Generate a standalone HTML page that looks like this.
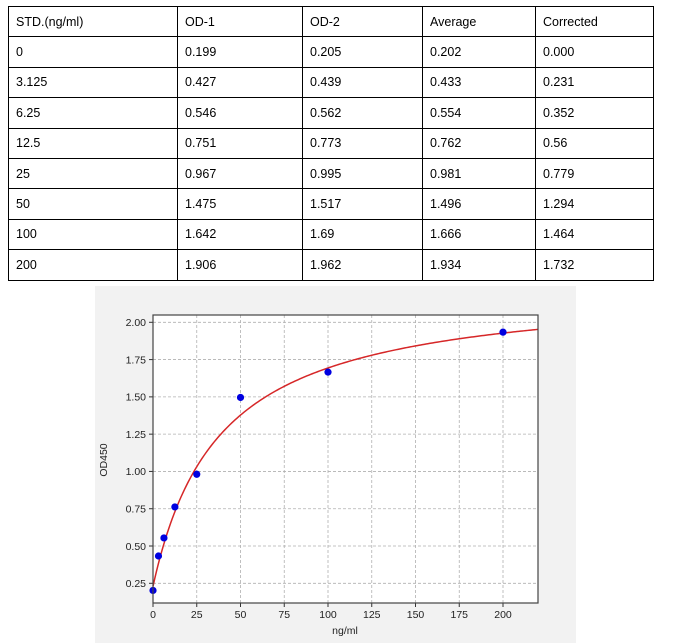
<!DOCTYPE html>
<html><head><meta charset="utf-8"><style>
html,body{margin:0;padding:0;background:#fff;width:673px;height:643px;overflow:hidden;font-family:"Liberation Sans",sans-serif}
table{position:absolute;left:8px;top:6px;border-collapse:collapse;font-size:12.5px;color:#000}
td{border:1.5px solid #000;height:30.4px;padding:0 0 0 7px;box-sizing:border-box}
svg{position:absolute;left:0;top:0}
</style></head><body>
<table>
<colgroup><col style="width:169px"><col style="width:125px"><col style="width:120px"><col style="width:113px"><col style="width:118px"></colgroup>
<tr><td>STD.(ng/ml)</td><td>OD-1</td><td>OD-2</td><td>Average</td><td>Corrected</td></tr>
<tr><td>0</td><td>0.199</td><td>0.205</td><td>0.202</td><td>0.000</td></tr>
<tr><td>3.125</td><td>0.427</td><td>0.439</td><td>0.433</td><td>0.231</td></tr>
<tr><td>6.25</td><td>0.546</td><td>0.562</td><td>0.554</td><td>0.352</td></tr>
<tr><td>12.5</td><td>0.751</td><td>0.773</td><td>0.762</td><td>0.56</td></tr>
<tr><td>25</td><td>0.967</td><td>0.995</td><td>0.981</td><td>0.779</td></tr>
<tr><td>50</td><td>1.475</td><td>1.517</td><td>1.496</td><td>1.294</td></tr>
<tr><td>100</td><td>1.642</td><td>1.69</td><td>1.666</td><td>1.464</td></tr>
<tr><td>200</td><td>1.906</td><td>1.962</td><td>1.934</td><td>1.732</td></tr>
</table>
<svg id="s" width="673" height="643" xmlns="http://www.w3.org/2000/svg" font-family="Liberation Sans, sans-serif" font-size="10.5" fill="#222">
<rect x="95" y="286" width="481" height="357" fill="#f2f2f2"/>
<rect x="153" y="315" width="385" height="288" fill="#fff"/>
<g id="grid" stroke="#b0b0b0" stroke-dasharray="3,2" stroke-width="0.8"></g>
<g id="ticks" stroke="#333"></g>
<g id="labels"></g>
<path id="curve" fill="none" stroke="#d62728" stroke-width="1.5"/>
<g id="pts" fill="#0000e0"></g>
<rect x="153" y="315" width="385" height="288" fill="none" stroke="#444" stroke-width="1.2"/>
<text x="107" y="460" transform="rotate(-90 107 460)" text-anchor="middle">OD450</text>
<text x="345" y="634" text-anchor="middle">ng/ml</text>
</svg>
<script>
var X=function(v){return 153+v*1.75},Y=function(v){return 322.3+(2-v)*149.14};
var g=document.getElementById('grid'),t=document.getElementById('ticks'),l=document.getElementById('labels'),ns='http://www.w3.org/2000/svg';
function el(p,n,a,txt){var e=document.createElementNS(ns,n);for(var k in a)e.setAttribute(k,a[k]);if(txt)e.textContent=txt;p.appendChild(e);}
for(var v=0;v<=200;v+=25){var x=X(v);el(g,'line',{x1:x,x2:x,y1:315,y2:603});el(t,'line',{x1:x,x2:x,y1:603,y2:607});el(l,'text',{x:x,y:618,'text-anchor':'middle'},String(v));}
for(var i=1;i<=8;i++){var v=i*0.25,y=Y(v);el(g,'line',{x1:153,x2:538,y1:y,y2:y});el(t,'line',{x1:149,x2:153,y1:y,y2:y});el(l,'text',{x:146,y:y+3.8,'text-anchor':'end'},v.toFixed(2));}
var d='';for(var x=0;x<=220;x+=1){var yv=2.25-2.02/(1+Math.pow(x/38,1.0));d+=(x?'L':'M')+X(x).toFixed(2)+','+Y(yv).toFixed(2);}
document.getElementById('curve').setAttribute('d',d);
var P=[[0,0.202],[3.125,0.433],[6.25,0.554],[12.5,0.762],[25,0.981],[50,1.496],[100,1.666],[200,1.934]];
P.forEach(function(p){el(document.getElementById('pts'),'circle',{cx:X(p[0]),cy:Y(p[1]),r:3.6});});
</script>
</body></html>
